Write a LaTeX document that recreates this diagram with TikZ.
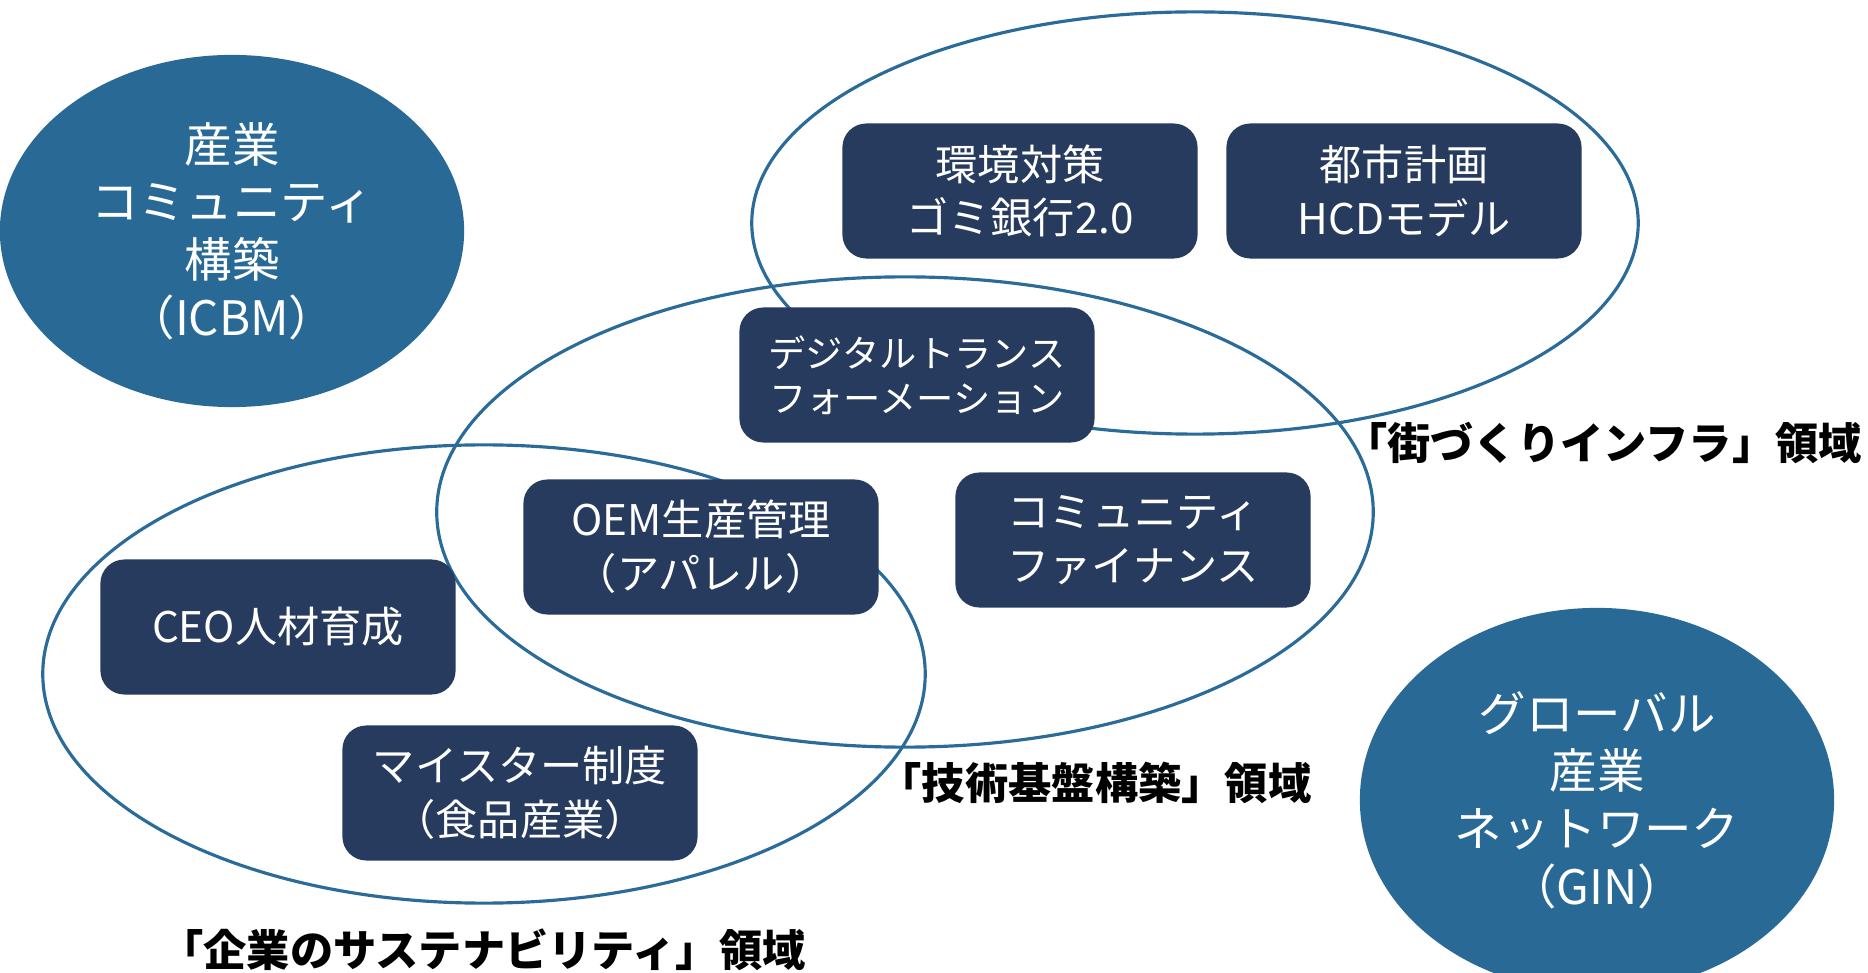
\documentclass[tikz,border=0pt]{standalone}
\usepackage{fontspec}
\setmainfont{Noto Sans CJK JP}
\usetikzlibrary{shapes.geometric}
\definecolor{BlobClr}{rgb}{0.16,0.41,0.59}
\definecolor{BoxClr}{rgb}{0.15,0.23,0.37}
\definecolor{RingClr}{rgb}{0.17,0.42,0.60}

\begin{document}
\begin{tikzpicture}[x=0.01cm,y=-0.01cm,
  ring/.style={draw=RingClr,line width=0.9pt},
  blob/.style={ellipse,fill=BlobClr,text=white,inner sep=0pt,align=center,
    font=\fontsize{13.5}{16.4}\selectfont},
  box/.style={rectangle,rounded corners=0.24cm,fill=BoxClr,text=white,align=center,
    minimum width=3.55cm,minimum height=1.35cm,inner sep=0pt,
    font=\fontsize{12}{15.3}\selectfont},
  area/.style={font=\fontsize{12.3}{15}\selectfont\bfseries,text=black,inner sep=0pt}]
\path[use as bounding box,clip] (0,0) rectangle (1868,973);

% The three overlapping fields.
\draw[ring] (1195,223) ellipse [x radius=4.43cm, y radius=2.11cm];
\draw[ring] (905,512) ellipse [x radius=4.68cm, y radius=2.35cm];
\draw[ring] (484,674) ellipse [x radius=4.41cm, y radius=2.29cm];

% Filled ellipses at the corners.
\node[blob,minimum width=4.64cm,minimum height=3.52cm] (icbm) at (232,231)
  {産業\\コミュニティ\\構築\\（ICBM）};
\node[blob,minimum width=4.74cm,minimum height=3.84cm] (gin) at (1597,800)
  {グローバル\\産業\\ネットワーク\\（GIN）};

% Projects.
\node[box] (env) at (1020,191) {環境対策\\ゴミ銀行2.0};
\node[box] (city) at (1404,191) {都市計画\\HCDモデル};
\node[box,font=\fontsize{10.6}{12.9}\selectfont] (dx) at (917,375)
  {デジタルトランス\\フォーメーション};
\node[box] (oem) at (701,547) {OEM生産管理\\（アパレル）};
\node[box] (fin) at (1133,540) {コミュニティ\\ファイナンス};
\node[box] (ceo) at (278,627) {CEO人材育成};
\node[box] (meister) at (520,793) {マイスター制度\\（食品産業）};

% Field names.
\node[area] (townlbl) at (1603,443) {「街づくりインフラ」領域};
\node[area] (techlbl) at (1095,783) {「技術基盤構築」領域};
\node[area] (corplbl) at (483,950) {「企業のサステナビリティ」領域};

\end{tikzpicture}
\end{document}
